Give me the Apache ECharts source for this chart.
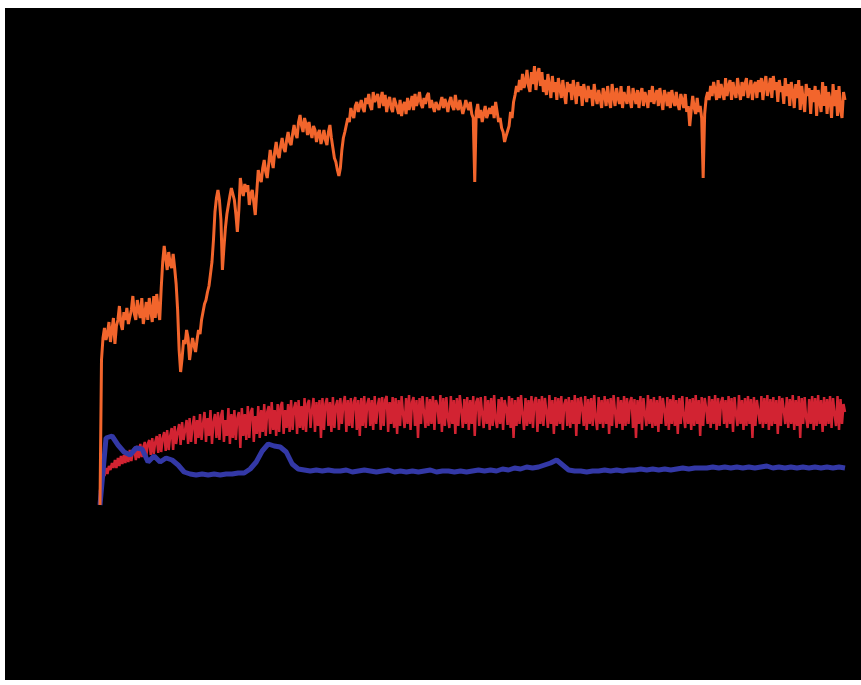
<!DOCTYPE html>
<html>
<head>
<meta charset="utf-8">
<script src="https://cdn.jsdelivr.net/npm/echarts@6/dist/echarts.min.js"></script>
<style>
  html, body { margin: 0; padding: 0; background: #ffffff; }
  #chart { position: absolute; left: 5px; top: 8px; width: 856px; height: 672px; }
</style>
</head>
<body>
<div id="chart"></div>
<script>
// Three recorded traces sharing one run (time 0..1000), values in signal units.
const timeSpan = 1000;

const orangeTrace = [
  5,150,172,182,170,176,188,168,180,192,
  166,184,190,204,186,180,198,190,202,186,
  184,200,214,196,190,210,200,192,212,186,
  196,208,190,212,200,188,214,192,216,200,
  190,222,248,264,252,240,258,246,242,256,
  242,226,200,160,138,152,170,166,180,172,
  150,162,172,164,158,170,180,176,190,198,
  206,210,218,224,236,248,270,298,312,320,
  310,290,240,262,282,296,305,314,322,316,
  310,296,278,300,332,320,314,326,318,325,
  305,316,320,308,295,318,340,332,328,342,
  350,338,332,346,360,350,342,358,368,356,
  352,364,372,362,358,370,378,368,365,376,
  385,376,372,388,395,384,378,392,386,375,
  388,378,372,384,380,368,376,380,366,372,
  380,370,365,378,385,372,362,352,348,340,
  334,342,360,372,378,385,392,388,402,396,
  392,404,408,398,396,410,402,398,412,406,
  416,404,400,418,408,406,416,402,410,418,
  404,415,398,408,413,402,398,412,410,402,
  396,410,394,404,408,396,412,400,406,414,
  400,416,404,410,418,406,402,412,406,414,
  417,402,410,412,398,408,410,400,402,413,
  402,411,406,398,408,413,404,400,415,404,
  400,410,408,396,402,410,404,400,408,396,
  392,328,398,406,392,400,388,396,404,392,
  390,402,396,404,392,408,398,388,392,382,
  378,368,374,372,384,398,392,408,415,424,
  418,430,420,436,422,428,440,424,418,438,
  426,444,420,436,442,424,438,418,430,415,
  436,424,412,434,418,428,410,432,422,412,
  430,416,406,428,418,426,410,430,420,406,
  428,414,424,404,426,416,408,424,412,420,
  404,426,414,406,420,412,402,422,416,404,
  424,410,402,426,414,404,422,412,406,424,
  402,418,420,406,424,410,402,422,414,406,
  420,402,416,422,404,418,412,402,420,408,
  424,406,414,420,404,422,410,400,420,414,
  404,418,402,420,410,404,418,406,400,416,
  410,402,416,398,404,384,400,414,402,396,
  412,398,404,392,332,396,412,418,410,424,
  414,428,420,410,430,412,426,418,410,432,
  414,424,430,410,428,418,412,432,420,410,
  428,414,426,432,412,420,430,410,424,428,
  412,430,418,432,410,426,434,414,422,432,
  412,434,420,428,408,430,418,424,406,432,
  414,426,404,428,418,402,426,412,430,400,
  424,410,398,426,414,422,396,420,408,424,
  394,420,410,398,428,404,424,396,418,410,
  392,426,404,420,394,424,400,392,418,410
];

const redTrace = [
  18,30,38,34,42,36,44,40,47,42,
  50,42,52,44,54,46,55,47,58,48,
  60,49,58,62,50,64,52,66,53,63,
  68,54,66,70,55,72,56,68,74,57,
  76,58,72,78,59,80,60,74,82,60,
  84,66,78,86,65,88,70,80,90,66,
  92,68,84,94,66,90,72,96,70,86,
  98,68,92,74,100,66,88,96,72,98,
  70,94,100,68,90,74,102,66,96,72,
  100,70,92,98,62,102,74,96,70,104,
  72,98,102,68,94,76,104,72,100,78,
  106,74,98,104,76,108,80,100,74,106,
  78,104,108,76,100,82,106,78,110,80,
  102,108,76,110,82,104,80,112,78,106,
  110,82,100,112,78,108,84,110,72,112,
  80,106,112,84,108,78,113,82,104,110,
  80,112,86,106,114,78,110,84,112,82,
  108,113,80,110,74,112,84,114,82,106,
  112,84,110,80,114,86,104,112,80,113,
  84,110,114,78,108,86,113,82,112,76,
  110,84,114,96,82,112,86,115,80,108,
  113,84,110,72,112,86,114,98,82,113,
  84,111,86,114,80,110,104,86,115,78,
  112,84,113,92,82,114,86,110,76,112,
  84,115,100,82,111,86,113,80,110,86,
  114,74,108,112,84,113,96,82,114,86,
  110,80,112,84,115,90,82,111,86,113,
  80,110,102,85,114,82,112,72,110,84,
  113,86,115,96,80,112,84,110,86,114,
  82,108,113,78,111,86,114,84,112,98,
  82,115,86,110,76,113,84,112,86,114,
  80,106,111,84,113,82,110,86,115,74,
  112,86,113,102,84,114,80,111,86,112,
  84,115,92,80,113,86,110,82,114,86,
  111,76,112,84,115,98,82,113,86,110,
  80,114,84,112,86,108,113,82,111,72,
  110,86,114,80,112,96,84,115,86,111,
  82,113,84,110,78,114,86,112,100,84,
  113,80,111,86,115,84,110,76,112,86,
  114,94,82,113,86,111,80,112,84,115,
  86,110,74,113,84,112,102,86,114,82,
  111,86,115,80,112,84,108,113,86,110,
  82,114,86,112,78,113,96,84,115,86,
  110,80,112,84,114,86,111,72,113,84,
  110,98,86,114,82,112,86,115,80,111,
  84,113,86,110,76,114,84,112,100,86,
  113,82,111,86,115,80,110,84,114,72,
  112,86,113,92,82,111,86,114,80,112,
  84,115,86,110,78,113,84,111,86,114,
  82,112,96,84,114,80,111,86,106,98
];

const blueTrace = [
  5,72,74,65,58,55,62,61,48,54,48,52,50,45,38,36,35,36,35,36,
  35,36,36,37,37,41,48,59,66,64,63,58,46,41,40,39,40,39,40,39,
  39,40,38,39,40,39,38,39,40,38,39,38,39,38,39,40,38,39,39,38,
  39,38,39,40,39,40,39,41,40,42,41,43,42,43,45,47,50,45,40,39,
  39,38,39,39,40,39,40,39,40,40,41,40,41,40,41,40,41,42,41,42,
  42,42,43,42,43,42,43,42,43,42,43,44,42,43,42,43,42,43,42,43,
  42,43,42,43,42
];

function toPairs(values) {
  const step = timeSpan / (values.length - 1);
  return values.map((v, i) => [i * step, v]);
}

const chart = echarts.init(document.getElementById('chart'));
chart.setOption({
  backgroundColor: '#000000',
  animation: false,
  grid: { left: 95, right: 16, top: 52, bottom: 170 },
  xAxis: { type: 'value', min: 0, max: timeSpan, show: false },
  yAxis: { type: 'value', min: 0, max: 450, show: false },
  series: [
    {
      name: 'red', type: 'line', data: toPairs(redTrace), showSymbol: false,
      lineStyle: { color: '#d22332', width: 2.5 }, z: 2
    },
    {
      name: 'blue', type: 'line', data: toPairs(blueTrace), showSymbol: false,
      lineStyle: { color: '#3338a6', width: 5 }, z: 3
    },
    {
      name: 'orange', type: 'line', data: toPairs(orangeTrace), showSymbol: false,
      lineStyle: { color: '#f2652c', width: 3 }, z: 4
    }
  ]
});
</script>
</body>
</html>
